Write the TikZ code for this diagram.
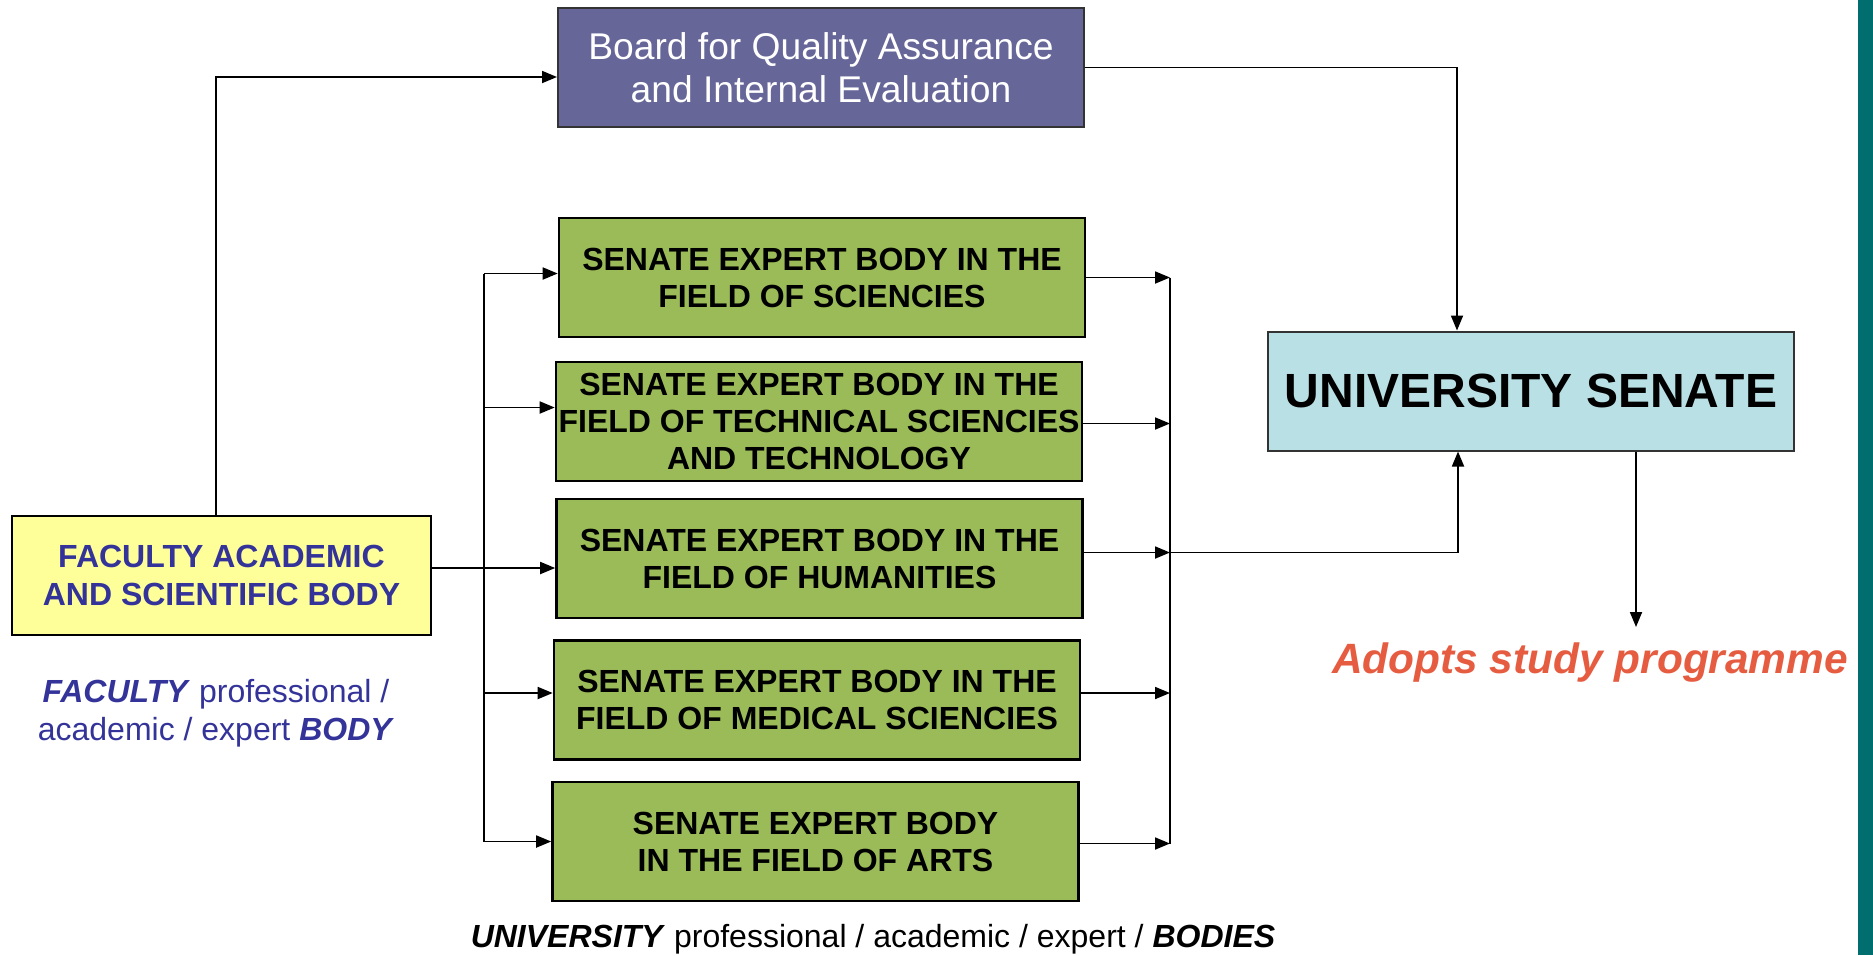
\documentclass[tikz,border=0pt]{standalone}
\usepackage{fontspec}
\setmainfont{Liberation Sans}
\usepackage{xcolor}
\usepackage{tikz}
\usetikzlibrary{shapes, arrows.meta, positioning}
\definecolor{boardblue}{HTML}{666699}
\definecolor{expertgreen}{HTML}{9BBB59}
\definecolor{facultyyellow}{HTML}{FFFF99}
\definecolor{senatecyan}{HTML}{B9E0E5}
\definecolor{facultytext}{HTML}{333399}
\definecolor{adoptred}{HTML}{E65C41}
\definecolor{sidebar}{HTML}{006E6E}

\begin{document}
\begin{tikzpicture}[
        x=0.5pt, y=-0.5pt,
        block/.style={rectangle, draw, line width=1pt, align=center, inner xsep=0pt, minimum width=263pt, minimum height=59.5pt},
        board_block/.style={block, fill=boardblue, draw=black!80, text=white, font=\fontsize{18.6pt}{21.5pt}\selectfont},
        expert_block/.style={block, fill=expertgreen, line width=1.3pt, font=\fontsize{16pt}{18.5pt}\selectfont\bfseries},
        faculty_block/.style={block, fill=facultyyellow, minimum width=209.5pt, text=facultytext, font=\fontsize{16pt}{19pt}\selectfont\bfseries},
        senate_block/.style={block, fill=senatecyan, draw=black!80, font=\fontsize{24pt}{28pt}\selectfont\bfseries},
        note/.style={align=center, font=\fontsize{16pt}{19pt}\selectfont},
        arrow/.style={-{Triangle[length=7.5pt, width=6pt]}, line width=0.9pt},
        bus_line/.style={line width=0.9pt}
    ]
    \useasboundingbox (0,0) rectangle (1873,955);
    \fill[sidebar] (1858,0) rectangle (1873,955);

    \node[board_block] (board) at (821,67.5) {Board for Quality Assurance\\and Internal Evaluation};
    \node[expert_block] (sci) at (822,277.5) {SENATE EXPERT BODY IN THE\\FIELD OF SCIENCIES};
    \node[expert_block] (tech) at (819,421.5) {SENATE EXPERT BODY IN THE\\FIELD OF TECHNICAL SCIENCIES\\AND TECHNOLOGY};
    \node[expert_block] (hum) at (819.5,558.5) {SENATE EXPERT BODY IN THE\\FIELD OF HUMANITIES};
    \node[expert_block] (med) at (817,700) {SENATE EXPERT BODY IN THE\\FIELD OF MEDICAL SCIENCIES};
    \node[expert_block] (arts) at (815.5,841.5) {SENATE EXPERT BODY\\IN THE FIELD OF ARTS};
    \node[faculty_block] (faculty) at (221.5,575) {FACULTY ACADEMIC\\AND SCIENTIFIC BODY};
    \node[senate_block] (senate) at (1531,391) {UNIVERSITY SENATE};

    \node[note, text=facultytext] (faculty_note) at (216,713) {\textbf{\textit{FACULTY}} professional /\\academic / expert \textbf{\textit{BODY}}};
    \node[note] (university_note) at (873,939) {\textbf{\textit{UNIVERSITY}} professional / academic / expert / \textbf{\textit{BODIES}}};
    \node[text=adoptred, font=\fontsize{21.2pt}{25pt}\selectfont\bfseries\itshape] (adopts) at (1590,663) {Adopts study programme};

    \coordinate (fbus) at (216,0);
    \coordinate (lbus) at (484,0);
    \coordinate (rbus) at (1170,0);
    \coordinate (out) at (1636,627);

    \draw[arrow] (faculty.north -| fbus) |- ([yshift=-4.75pt]board.west);
    \draw[arrow] (board.east) -| ([xshift=-37pt]senate.north);
    \draw[arrow] ([yshift=3.5pt]faculty.east) -- ([yshift=3.5pt]faculty.east -| hum.west);
    % left bus to the expert bodies
    \draw[bus_line] ([yshift=2pt]sci.west -| lbus) -- (arts.west -| lbus);
    \foreach \b/\dy in {sci/2, tech/7, med/3.5, arts/0}
        \draw[arrow] ([yshift=\dy pt]\b.west -| lbus) -- ([yshift=\dy pt]\b.west);
    % right bus to the senate
    \draw[bus_line] (sci.east -| rbus) -- ([yshift=-1pt]arts.east -| rbus);
    \foreach \b/\dy in {sci/0, tech/-1, hum/3, med/3.5, arts/-1}
        \draw[arrow] ([yshift=\dy pt]\b.east) -- ([yshift=\dy pt]\b.east -| rbus);
    \draw[arrow] ([yshift=3pt]hum.east -| rbus) -| ([xshift=-36.5pt]senate.south);
    \draw[arrow] (senate.south -| out) -- (out);
\end{tikzpicture}
\end{document}
